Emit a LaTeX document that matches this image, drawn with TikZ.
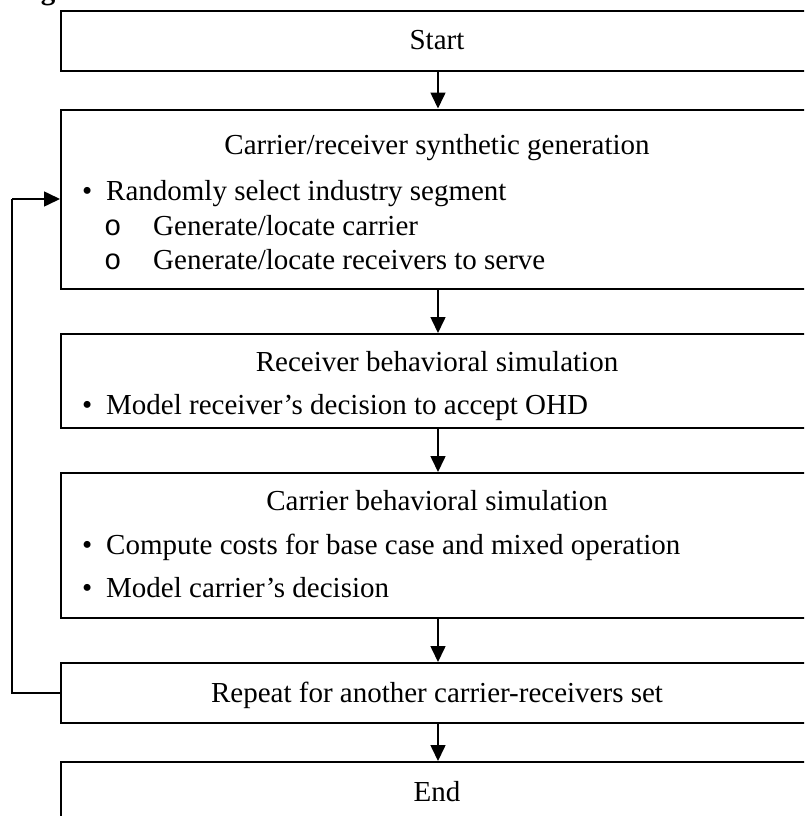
\documentclass[tikz,border=0pt]{standalone}
\usepackage{fontspec}
\setmainfont{Liberation Serif}
\newfontfamily\monofont{Liberation Mono}
\usetikzlibrary{arrows.meta}
\begin{document}
\begin{tikzpicture}[x=1pt,y=-1pt,
  every node/.style={font=\fontsize{29}{33}\selectfont, inner sep=0pt},
  stage/.style={draw, line width=2pt, anchor=north west, minimum width=754pt},
  title/.style={anchor=base},
  item/.style={anchor=base west},
  flow/.style={line width=1.6pt, -{Triangle[length=16pt,width=15pt]}}]
\useasboundingbox (0,0) rectangle (804,816);
\clip (0,0) rectangle (804,816);

% caption fragment above the chart
\node[anchor=base] (cap) at (48,0) {\bfseries g};

% stage boxes
\node[stage, minimum height=59.5pt] (start) at (60,10)    {};
\node[stage, minimum height=179.5pt] (gen)  at (60,108.5) {};
\node[stage, minimum height=94pt]  (recv)  at (60,333) {};
\node[stage, minimum height=145pt] (carr)  at (60,472) {};
\node[stage, minimum height=60pt]  (rep)   at (60,662) {};
\node[stage, minimum height=60pt]  (fin)   at (60,761) {};

% texts
\node[title] (tstart) at (437,50) {Start};

\node[title] (tgen) at (437,154) {Carrier/receiver synthetic generation};
\node[item] (g1b) at (82,200) {\textbullet};
\node[item] (g1) at (106,200) {Randomly select industry segment};
\node[item] (g2b) at (104,235) {\monofont o};
\node[item] (g2) at (153,235) {Generate/locate carrier};
\node[item] (g3b) at (104,269) {\monofont o};
\node[item] (g3) at (153,269) {Generate/locate receivers to serve};

\node[title] (trecv) at (437,371) {Receiver behavioral simulation};
\node[item] (r1b) at (82,414) {\textbullet};
\node[item] (r1) at (106,414) {Model receiver’s decision to accept OHD};

\node[title] (tcarr) at (437,510) {Carrier behavioral simulation};
\node[item] (c1b) at (82,554) {\textbullet};
\node[item] (c1) at (106,554) {Compute costs for base case and mixed operation};
\node[item] (c2b) at (82,597) {\textbullet};
\node[item] (c2) at (106,597) {Model carrier’s decision};

\node[title] (trep) at (437,702) {Repeat for another carrier-receivers set};
\node[title] (tfin) at (437,801) {End};

% connectors
\draw[flow] (start) -- (gen);
\draw[flow] (gen) -- (recv);
\draw[flow] (recv) -- (carr);
\draw[flow] (carr) -- (rep);
\draw[flow] (rep) -- (fin);

% feedback loop
\coordinate (lx) at (12,0);
\coordinate (ly) at (0,199);
\draw[line width=2pt] (rep.west) -- (rep.west -| lx) -- (lx |- ly) coordinate (lc);
\draw[flow] (lc) -- (gen.west |- ly);
\end{tikzpicture}
\end{document}
